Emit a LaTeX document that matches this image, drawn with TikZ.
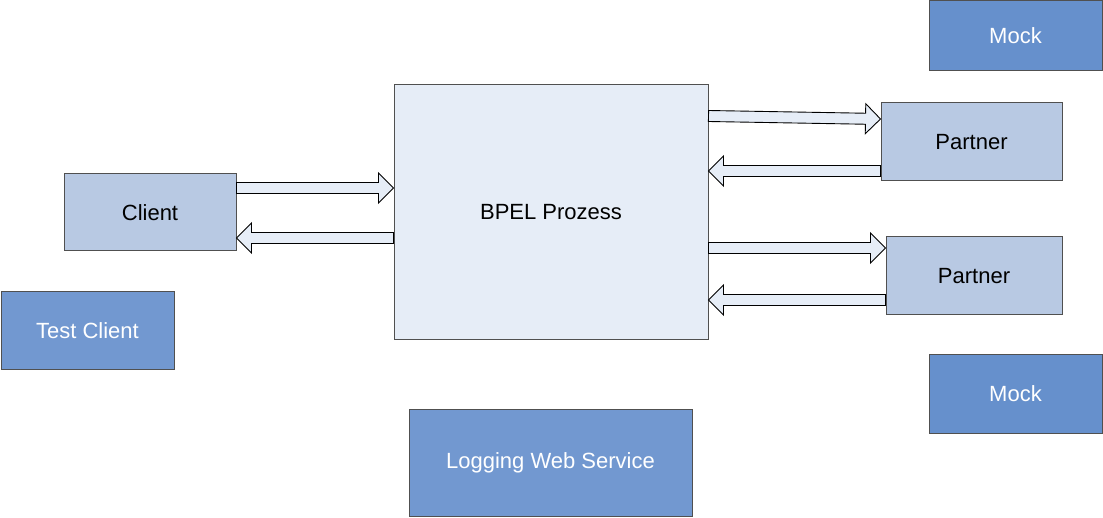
\documentclass[tikz,border=0pt]{standalone}
\usepackage{fontspec}
\setmainfont{Liberation Sans}
\usetikzlibrary{
  calc
}
\definecolor{mockblue}{HTML}{6690CC}
\definecolor{serviceblue}{HTML}{7298D0}
\definecolor{partnerblue}{HTML}{B8C9E3}
\definecolor{processblue}{HTML}{E6EDF7}
\definecolor{boxline}{HTML}{505050}

% block arrow from #1 to #2 (named coordinates)
\newcommand{\blockarrow}[2]{%
  \coordinate (ah) at ($(#2)!15pt!(#1)$);
  \draw[flow] ($(#1)!5.5pt!90:(#2)$) -- ($(ah)!5.5pt!-90:(#1)$)
    -- ($(ah)!15pt!-90:(#1)$) -- (#2) -- ($(ah)!15pt!90:(#1)$)
    -- ($(ah)!5.5pt!90:(#1)$) -- ($(#1)!5.5pt!-90:(#2)$) -- cycle;
}

\begin{document}
\begin{tikzpicture}[
    x=1pt, y=-1pt,
    box/.style={
      rectangle,
      draw=boxline,
      line width=1pt,
      inner sep=0pt,
      align=center
    },
    mock/.style={box, fill=mockblue, text=white},
    service/.style={box, fill=serviceblue, text=white},
    partner/.style={box, fill=partnerblue},
    process/.style={box, fill=processblue},
    flow/.style={draw=black, line width=0.9pt, fill=processblue, line join=miter}
  ]
  \fontsize{22}{26}\selectfont
  \useasboundingbox (0,0) rectangle (1103,518);

  \node[mock, minimum width=173, minimum height=70] (mocka) at (1015.5,36) {Mock};
  \node[partner, minimum width=181, minimum height=78] (partnera) at (971.5,142) {Partner};
  \node[partner, minimum width=176, minimum height=78] (partnerb) at (974,276) {Partner};
  \node[mock, minimum width=173, minimum height=78] (mockb) at (1015.5,394) {Mock};

  \node[process, minimum width=314, minimum height=255] (bpel) at (551,212.5) {BPEL Prozess};
  \node[partner, minimum width=172, minimum height=77] (client) at (150,212.5) {Client};
  \node[service, minimum width=173, minimum height=78] (testclient) at (87.5,331) {Test Client};
  \node[service, minimum width=283, minimum height=106] (logging) at (550.5,463) {Logging Web Service};

  % client <-> process
  \coordinate (clientout) at ($(client.east)+(0,-24.5)$);
  \coordinate (bpelin) at ($(bpel.west)+(0,-24.5)$);
  \coordinate (bpelout) at ($(bpel.west)+(0,25.5)$);
  \coordinate (clientin) at ($(client.east)+(0,25.5)$);
  \blockarrow{clientout}{bpelin}
  \blockarrow{bpelout}{clientin}

  % process <-> partners
  \coordinate (callaout) at ($(bpel.east)+(0,-96.5)$);
  \coordinate (callain) at ($(partnera.west)+(0,-23)$);
  \coordinate (replyaout) at ($(partnera.west)+(0,29)$);
  \coordinate (replyain) at ($(bpel.east)+(0,-41.5)$);
  \blockarrow{callaout}{callain}
  \blockarrow{replyaout}{replyain}

  \coordinate (callbout) at ($(bpel.east)+(0,35.5)$);
  \coordinate (callbin) at ($(partnerb.west)+(0,-28)$);
  \coordinate (replybout) at ($(partnerb.west)+(0,24)$);
  \coordinate (replybin) at ($(bpel.east)+(0,87.5)$);
  \blockarrow{callbout}{callbin}
  \blockarrow{replybout}{replybin}
\end{tikzpicture}
\end{document}
